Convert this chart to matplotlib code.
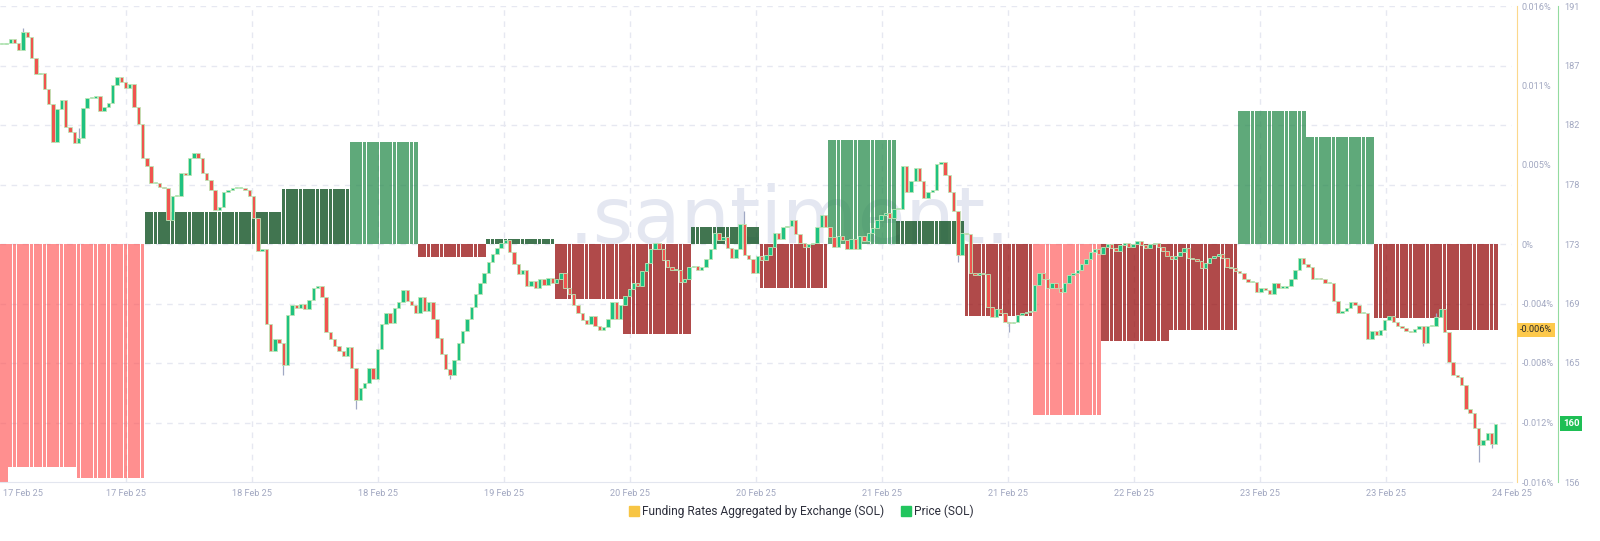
import numpy as np
import pandas as pd
import matplotlib
matplotlib.use("Agg")
import matplotlib.pyplot as plt
from matplotlib.lines import Line2D
import matplotlib.transforms as mtransforms
from matplotlib.colors import to_rgba

plt.rcParams['font.family'] = ['Roboto', 'DejaVu Sans']

# ---------------- data ----------------
candle_start = '2025-02-16 23:00'   # 30-minute candles
ref_time = pd.Timestamp('2025-02-17 00:00')

close_a = [188.2, 188.3, 188.6, 188.3, 187.8, 189.1, 188.7, 187.2, 186.0, 186.1,
           184.9, 183.8, 181.0, 183.4, 184.1, 182.1, 181.7, 180.9, 181.3, 183.5,
           184.2, 184.2, 184.4, 183.3, 183.6, 183.9, 185.2, 185.8, 185.4, 185.0,
           185.3, 183.6, 182.3, 179.8, 179.2, 178.0, 178.0, 177.7, 177.6, 175.3,
           177.0, 177.0, 178.7, 178.6, 179.8, 180.2, 179.8, 178.7, 178.2, 177.5,
           176.0, 176.2, 177.3, 177.5, 177.6, 177.6, 177.6, 177.5, 177.0, 175.4,
           173.0, 173.1]
close_b = [167.6, 165.6, 166.5, 166.2, 164.6, 168.3, 169.0, 168.8, 169.1, 168.7,
           169.4, 170.3, 170.4, 169.6, 167.0, 166.5, 166.0, 165.6, 165.3, 165.9,
           164.4, 162.0, 162.9, 163.3, 164.4, 163.6, 165.8, 167.6, 168.4, 167.7,
           168.8, 169.2, 170.1, 169.3, 169.0, 168.4, 169.6, 168.6, 169.2, 168.0,
           166.6, 165.4, 164.3, 163.9, 165.0, 166.2, 167.1, 168.0, 168.9, 169.8,
           170.6, 171.4, 172.2, 172.8, 173.2, 173.6]
close_c = [173.8, 172.9, 172.0, 171.3, 171.6, 170.4, 170.8, 170.3, 170.9, 170.5,
           171.0, 170.6, 170.9, 171.4, 170.3, 169.8, 169.0, 168.4, 167.9, 167.6,
           168.2, 167.5, 167.2, 167.4, 168.0, 169.2, 168.0, 169.0, 169.7, 170.2,
           170.6, 170.4, 171.5, 172.1, 173.1]
close_d = [173.6, 173.1, 172.3, 171.8, 171.6, 171.6, 170.7, 170.9, 171.8, 171.9,
           171.6, 171.8, 172.4, 173.1, 174.3, 173.8, 174.0, 173.2, 172.5, 173.1,
           175.0, 172.7, 172.4, 171.4, 172.6, 172.3, 172.7, 173.3, 174.3, 173.9,
           174.75, 174.8, 175.3, 174.2, 173.6, 173.3, 173.5, 173.6, 174.75, 175.6,
           174.75, 174.0, 173.3, 174.1, 173.8, 173.1, 173.9, 173.1, 174.1, 173.7,
           174.3, 174.7, 175.3, 175.6, 175.8, 175.4, 176.1, 176.1, 179.2, 177.3,
           178.1, 179.1, 178.1, 176.9, 177.3, 177.5, 179.4, 179.5, 178.6, 177.3,
           175.9, 172.7, 174.3, 174.2, 171.4, 171.2, 171.4, 171.3, 168.9, 168.1,
           168.7, 168.4, 167.8, 167.7, 167.8, 168.3, 168.4, 168.5, 168.6, 170.5,
           171.4, 170.9, 170.3, 170.6, 170.3, 170.0, 170.6, 171.2, 171.4]
close_e = [171.6, 172.0, 172.4, 172.9, 173.1, 172.8, 173.3, 173.5, 173.2, 173.0,
           173.4, 173.6, 173.3, 173.5, 173.7, 173.4, 173.2, 173.5, 173.6, 173.3,
           173.0, 172.6, 172.4, 172.6]
close_f = [172.9, 173.2, 172.5, 172.4, 172.25, 171.7, 172.1, 172.5, 172.6, 172.8,
           172.5, 171.8, 171.7, 171.5, 171.4, 170.9, 170.7, 170.7, 170.0, 170.3,
           170.1, 169.8, 170.6, 170.3, 170.3, 170.4, 170.9, 171.6, 172.5, 172.0,
           171.8, 170.9, 171.0, 170.9, 170.6, 170.6, 169.3, 168.4, 168.6, 168.8,
           169.2, 169.0, 168.4, 168.4, 166.5, 167.1, 166.8, 167.2, 167.9, 168.2,
           167.8, 167.5, 167.3, 167.1, 167.0, 167.25, 167.5, 166.2, 167.5, 167.5,
           168.1, 168.7, 167.0, 164.8, 163.9, 163.7, 163.1, 161.4, 161.1, 160.0,
           158.7, 159.1, 159.6, 158.8, 160.3]

# visible long wicks: candle index -> (high, low)
long_wicks = {5: (189.4, None), 18: (182.0, None), 66: (None, 163.9), 83: (None, 161.4),
              105: (None, 163.6), 174: (175.9, None), 224: (None, 172.2),
              236: (None, 167.0), 336: (168.4, None), 346: (None, 157.5),
              349: (None, 158.5), 333: (None, 166.0)}

funding_start = '2025-02-16 16:00'   # 8-hour funding periods
funding_rates = [-0.0163, -0.0150, -0.0157, 0.00215, 0.00212, 0.0037, 0.00686,
                 -0.00087, 0.00034, -0.0037, -0.00605, 0.00114, -0.00296, 0.00699,
                 0.00155, -0.00484, -0.0115, -0.00652, -0.00578, 0.00894, 0.00719,
                 -0.00497, -0.00578]

price_ticks = [156, 160.375, 164.75, 169.125, 173.5, 177.875, 182.25, 186.625, 191]
price_tick_labels = ['156', '160', '165', '169', '173', '178', '182', '187', '191']
funding_ticks = [-0.016, -0.012, -0.008, -0.004, 0.0, 0.016 / 3, 0.032 / 3, 0.016]
funding_tick_labels = ['-0.016%', '-0.012%', '-0.008%', '-0.004%', '0%', '0.005%',
                       '0.011%', '0.016%']
x_tick_labels = ['17 Feb 25', '17 Feb 25', '18 Feb 25', '18 Feb 25', '19 Feb 25',
                 '20 Feb 25', '20 Feb 25', '21 Feb 25', '21 Feb 25', '22 Feb 25',
                 '23 Feb 25', '23 Feb 25', '24 Feb 25']

# ---------------- derived ----------------
closes = np.array(close_a + close_b + close_c + close_d + close_e + close_f)
opens = np.concatenate([[closes[0]], closes[:-1]])
highs = np.maximum(opens, closes)
lows = np.minimum(opens, closes)
for k, (h, l) in long_wicks.items():
    if h is not None:
        highs[k] = max(highs[k], h)
    if l is not None:
        lows[k] = min(lows[k], l)

times = pd.date_range(candle_start, periods=len(closes), freq='30min')
hours = ((times - ref_time) / pd.Timedelta('1h')).to_numpy(dtype=float)
f0 = (pd.Timestamp(funding_start) - ref_time) / pd.Timedelta('1h')
period_idx = ((hours - f0) // 8).astype(int)
fund = np.array(funding_rates)[period_idx]


def fund_color(v):
    if v >= 0.005:
        return to_rgba('#2a8c4e', 0.75)
    if v >= 0:
        return to_rgba('#17572a', 0.82)
    if v <= -0.01:
        return to_rgba('#ff5a5a', 0.68)
    return to_rgba('#960d0d', 0.75)


fund_colors = [fund_color(v) for v in fund]

# ---------------- figure ----------------
W, H = 1600, 541
fig = plt.figure(figsize=(W / 100, H / 100), dpi=100)
fig.patch.set_facecolor('white')
ax_left, ax_right, ax_top, ax_bottom = 0, 1512, 6, 482
ax = fig.add_axes([ax_left / W, 1 - ax_bottom / H, (ax_right - ax_left) / W,
                   (ax_bottom - ax_top) / H])
ax2 = ax.twinx()

xmin, xmax = -1.2, 175.9
fmin, fmax = -0.016, 0.016
pmin, pmax = 156, 191
ax.set_xlim(xmin, xmax)
ax.set_ylim(fmin, fmax)
ax2.set_ylim(pmin, pmax)

grid_col = '#e6e8f1'
# horizontal grid at price ticks (drawn on funding axes, behind bars)
for p in price_ticks[1:]:
    fy = fmin + (p - pmin) / (pmax - pmin) * (fmax - fmin)
    ax.axhline(fy, color=grid_col, lw=1, ls=(0, (4, 4)), zorder=0.5)
xt = [xmin + k * (xmax - xmin) / 12 for k in range(13)]
for x in xt[1:-1]:
    ax.axvline(x, color=grid_col, lw=1, ls=(0, (4, 4)), zorder=0.5)

# watermark
ax.text(0.5225, 0.502, '.santiment.', transform=ax.transAxes, ha='center',
        va='baseline', fontsize=56, color='#e4e7f1', family='DejaVu Sans',
        zorder=0.6)

# funding bars
ax.bar(hours, fund, width=0.44, color=fund_colors, linewidth=0, zorder=2)

# candles
up = closes >= opens
body_cols = np.where(up, '#1fc281', '#f0544f')
bottoms = np.minimum(opens, closes)
heights = np.maximum(np.abs(closes - opens), 0.08)
ax2.vlines(hours, lows, highs, color='#a0a8c4', lw=0.9, zorder=1)
ax2.bar(hours, heights, bottom=bottoms, width=0.4, color=body_cols,
        edgecolor='#bde6b6', linewidth=0.6, zorder=2)

# spines
for s in ['top', 'left']:
    ax.spines[s].set_visible(False)
    ax2.spines[s].set_visible(False)
ax2.spines['bottom'].set_visible(False)
ax.spines['bottom'].set_color('#e3e6ef')
ax.spines['right'].set_visible(True)
ax.spines['right'].set_position(('axes', 1517 / 1512))
ax.spines['right'].set_color('#fcd88c')
ax2.spines['right'].set_position(('axes', 1558 / 1512))
ax2.spines['right'].set_color('#93dba0')

tick_col = '#a2a8c1'
ax.yaxis.tick_right()
ax.set_yticks(funding_ticks)
ax.set_yticklabels(funding_tick_labels)
ax.tick_params(axis='y', length=0, pad=3.6, labelsize=6.6, labelcolor=tick_col)

last_close = closes[-1]
ax2.set_yticks(price_ticks)
ax2.set_yticklabels(price_tick_labels)
ax2.tick_params(axis='y', length=0, pad=4.2, labelsize=6.6, labelcolor=tick_col)
for t, lbl in zip(price_ticks, ax2.get_yticklabels()):
    if abs(t - last_close) < 1.5:
        lbl.set_visible(False)

ax.set_xticks(xt)
ax.set_xticklabels(x_tick_labels)
ax.tick_params(axis='x', length=0, pad=5, labelsize=6.6, labelcolor=tick_col)
first = ax.get_xticklabels()[0]
first.set_horizontalalignment('left')
first.set_transform(first.get_transform() +
                    mtransforms.ScaledTranslation(3 / 100, 0, fig.dpi_scale_trans))

# current value tags
last_fund = funding_rates[-1]
tr_f = mtransforms.blended_transform_factory(ax.transAxes, ax.transData)
ax.text(1519.5 / 1512, last_fund, f'{last_fund:.3f}%', transform=tr_f, ha='left',
        va='center', fontsize=6.6, color='#2a2a2a', zorder=10, clip_on=False,
        bbox=dict(boxstyle='square,pad=0.3', fc='#fdc94c', ec='none'))
tr_p = mtransforms.blended_transform_factory(ax2.transAxes, ax2.transData)
ax2.text(1563 / 1512, last_close, f'{last_close:.0f}', transform=tr_p, ha='left',
         va='center', fontsize=6.8, color='white', fontweight='bold', zorder=10,
         clip_on=False, bbox=dict(boxstyle='square,pad=0.3', fc='#1ebf55', ec='none'))

# legend
handles = [Line2D([], [], marker='s', ls='', color='#f7c544', markersize=6.5),
           Line2D([], [], marker='s', ls='', color='#22c55e', markersize=6.5)]
fig.legend(handles, ['Funding Rates Aggregated by Exchange (SOL)', 'Price (SOL)'],
           loc='center', bbox_to_anchor=(801 / W, 1 - 511 / H), ncol=2,
           frameon=False, fontsize=8.6, handletextpad=0.2, columnspacing=1.3,
           handlelength=1.0, labelcolor='#2c2e3b')

fig.savefig('out.png', dpi=100, facecolor='white')
